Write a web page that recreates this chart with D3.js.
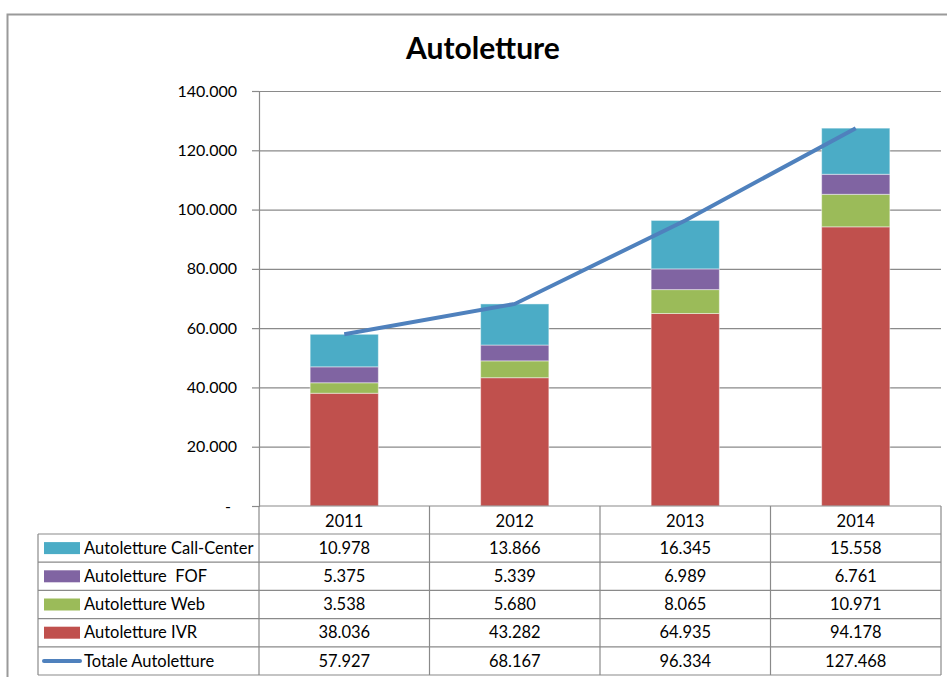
<!DOCTYPE html>
<html>
<head>
<meta charset="utf-8">
<script src="https://cdn.jsdelivr.net/npm/d3@7"></script>
<style>
  body { margin: 0; background: #fff; }
  text { font-family: Lato, "Open Sans", sans-serif; fill: #000; }
</style>
</head>
<body>
<div id="chart"></div>
<script>
var years = ["2011", "2012", "2013", "2014"];
var callCenter = [10978, 13866, 16345, 15558];
var fof = [5375, 5339, 6989, 6761];
var web = [3538, 5680, 8065, 10971];
var ivr = [38036, 43282, 64935, 94178];
var totale = [57927, 68167, 96334, 127468];
var yTicks = [0, 20000, 40000, 60000, 80000, 100000, 120000, 140000];

// stacked from bottom up
var series = [
  {key: "ivr", label: "Autoletture IVR", values: ivr, color: "#C0504D"},
  {key: "web", label: "Autoletture Web", values: web, color: "#9BBB59"},
  {key: "fof", label: "Autoletture  FOF", values: fof, color: "#8064A2"},
  {key: "cc", label: "Autoletture Call-Center", values: callCenter, color: "#4BACC6"}
];
// table rows, top down
var rows = [
  {label: "Autoletture Call-Center", values: callCenter, color: "#4BACC6"},
  {label: "Autoletture  FOF", values: fof, color: "#8064A2"},
  {label: "Autoletture Web", values: web, color: "#9BBB59"},
  {label: "Autoletture IVR", values: ivr, color: "#C0504D"},
  {label: "Totale Autoletture", values: totale, color: "#4F81BD", line: true}
];

var it = d3.formatLocale({decimal: ",", thousands: ".", grouping: [3], currency: ["€", ""]});
var fmt = it.format(",.0f");

var svg = d3.select("#chart").append("svg")
    .attr("width", 947)
    .attr("height", 677);

var plot = {left: 259, right: 941, top: 91, bottom: 506},
    tableLeft = 38, tableBottom = 675, headerH = 28,
    fs = 16.5;

// outer chart frame
svg.append("rect")
    .attr("x", 7.5).attr("y", 14.5)
    .attr("width", 980).attr("height", 700)
    .attr("fill", "none")
    .attr("stroke", "#9a9a9a")
    .attr("stroke-width", 2);

svg.append("text")
    .attr("x", 483).attr("y", 59)
    .attr("text-anchor", "middle")
    .attr("font-size", 30)
    .attr("font-weight", "bold")
    .text("Autoletture");

var x = d3.scaleBand()
    .domain(years)
    .range([plot.left, plot.right])
    .padding(0);

var y = d3.scaleLinear()
    .domain([0, 140000])
    .range([plot.bottom, plot.top]);

// gridlines
svg.append("g")
    .attr("transform", "translate(" + plot.left + ",0)")
    .call(d3.axisLeft(y).tickValues(yTicks.slice(1)).tickSize(-(plot.right - plot.left)).tickFormat(""))
    .call(function(g) {
      g.select(".domain").remove();
      g.selectAll("line").attr("stroke", "#8a8a8a").attr("stroke-width", 1.2);
    });

// y axis
svg.append("g")
    .attr("transform", "translate(" + plot.left + ",0)")
    .call(d3.axisLeft(y).tickValues(yTicks).tickSize(7).tickPadding(15)
      .tickFormat(function(d) { return d === 0 ? "-" : fmt(d); }))
    .call(function(g) {
      g.select(".domain").attr("stroke", "#8a8a8a").attr("stroke-width", 1.2);
      g.selectAll("line").attr("stroke", "#8a8a8a").attr("stroke-width", 1.2);
      g.selectAll("text")
        .attr("font-size", 16)
        .attr("fill", "#000")
        .style("font-family", "Lato, sans-serif")
        .attr("dx", function(d) { return d === 0 ? -6 : 0; });
    });

// stacked bars
var barW = x.bandwidth() * 0.4;
var stackData = years.map(function(yr, i) {
  var o = {year: yr};
  series.forEach(function(s) { o[s.key] = s.values[i]; });
  return o;
});
var stacked = d3.stack().keys(series.map(function(s) { return s.key; }))(stackData);

svg.append("g").selectAll("g")
  .data(stacked)
  .join("g")
    .attr("fill", function(d, i) { return series[i].color; })
  .selectAll("rect")
  .data(function(d) { return d; })
  .join("rect")
    .attr("x", function(d) { return x(d.data.year) + (x.bandwidth() - barW) / 2; })
    .attr("y", function(d) { return y(d[1]); })
    .attr("width", barW)
    .attr("height", function(d) { return y(d[0]) - y(d[1]); })
    .attr("stroke", "rgba(255,255,255,0.45)")
    .attr("stroke-width", 1);

// total line
var line = d3.line()
    .x(function(d, i) { return x(years[i]) + x.bandwidth() / 2; })
    .y(function(d) { return y(d); });

svg.append("path")
    .datum(totale)
    .attr("d", line)
    .attr("fill", "none")
    .attr("stroke", "#4F81BD")
    .attr("stroke-width", 4);

// x axis line
svg.append("line")
    .attr("x1", plot.left).attr("x2", plot.right)
    .attr("y1", plot.bottom).attr("y2", plot.bottom)
    .attr("stroke", "#8a8a8a").attr("stroke-width", 1.2);

// data table
var rowY = d3.scaleBand()
    .domain(rows.map(function(r) { return r.label; }))
    .range([plot.bottom + headerH, tableBottom]);

var table = svg.append("g").attr("stroke", "#8a8a8a").attr("stroke-width", 1.2);

// vertical lines
x.domain().forEach(function(yr) {
  table.append("line")
    .attr("x1", x(yr)).attr("x2", x(yr))
    .attr("y1", plot.bottom).attr("y2", tableBottom);
});
table.append("line")
    .attr("x1", plot.right).attr("x2", plot.right)
    .attr("y1", plot.bottom).attr("y2", tableBottom);
table.append("line")
    .attr("x1", tableLeft).attr("x2", tableLeft)
    .attr("y1", plot.bottom + headerH).attr("y2", tableBottom);

// horizontal lines
rows.forEach(function(r) {
  table.append("line")
    .attr("x1", tableLeft).attr("x2", plot.right)
    .attr("y1", rowY(r.label)).attr("y2", rowY(r.label));
});
table.append("line")
    .attr("x1", tableLeft).attr("x2", plot.right)
    .attr("y1", tableBottom).attr("y2", tableBottom);

// year headers
svg.append("g").selectAll("text")
  .data(years)
  .join("text")
    .attr("x", function(d) { return x(d) + x.bandwidth() / 2; })
    .attr("y", plot.bottom + headerH / 2 + 1)
    .attr("dy", "0.35em")
    .attr("text-anchor", "middle")
    .attr("font-size", fs)
    .text(function(d) { return d; });

var row = svg.append("g").selectAll("g")
  .data(rows)
  .join("g")
    .attr("transform", function(d) { return "translate(0," + (rowY(d.label) + rowY.bandwidth() / 2) + ")"; });

// legend keys
row.filter(function(d) { return !d.line; }).append("rect")
    .attr("x", 44).attr("y", -6)
    .attr("width", 36).attr("height", 12)
    .attr("fill", function(d) { return d.color; });

row.filter(function(d) { return d.line; }).append("line")
    .attr("x1", 44).attr("x2", 80)
    .attr("stroke", function(d) { return d.color; })
    .attr("stroke-width", 4)
    .attr("stroke-linecap", "round");

row.append("text")
    .attr("x", 84)
    .attr("dy", "0.35em")
    .attr("font-size", fs)
    .style("white-space", "pre")
    .text(function(d) { return d.label; });

row.selectAll("text.val")
  .data(function(d) { return d.values; })
  .join("text")
    .attr("class", "val")
    .attr("x", function(d, i) { return x(years[i]) + x.bandwidth() / 2; })
    .attr("dy", "0.35em")
    .attr("text-anchor", "middle")
    .attr("font-size", fs)
    .text(function(d) { return fmt(d); });
</script>
</body>
</html>
